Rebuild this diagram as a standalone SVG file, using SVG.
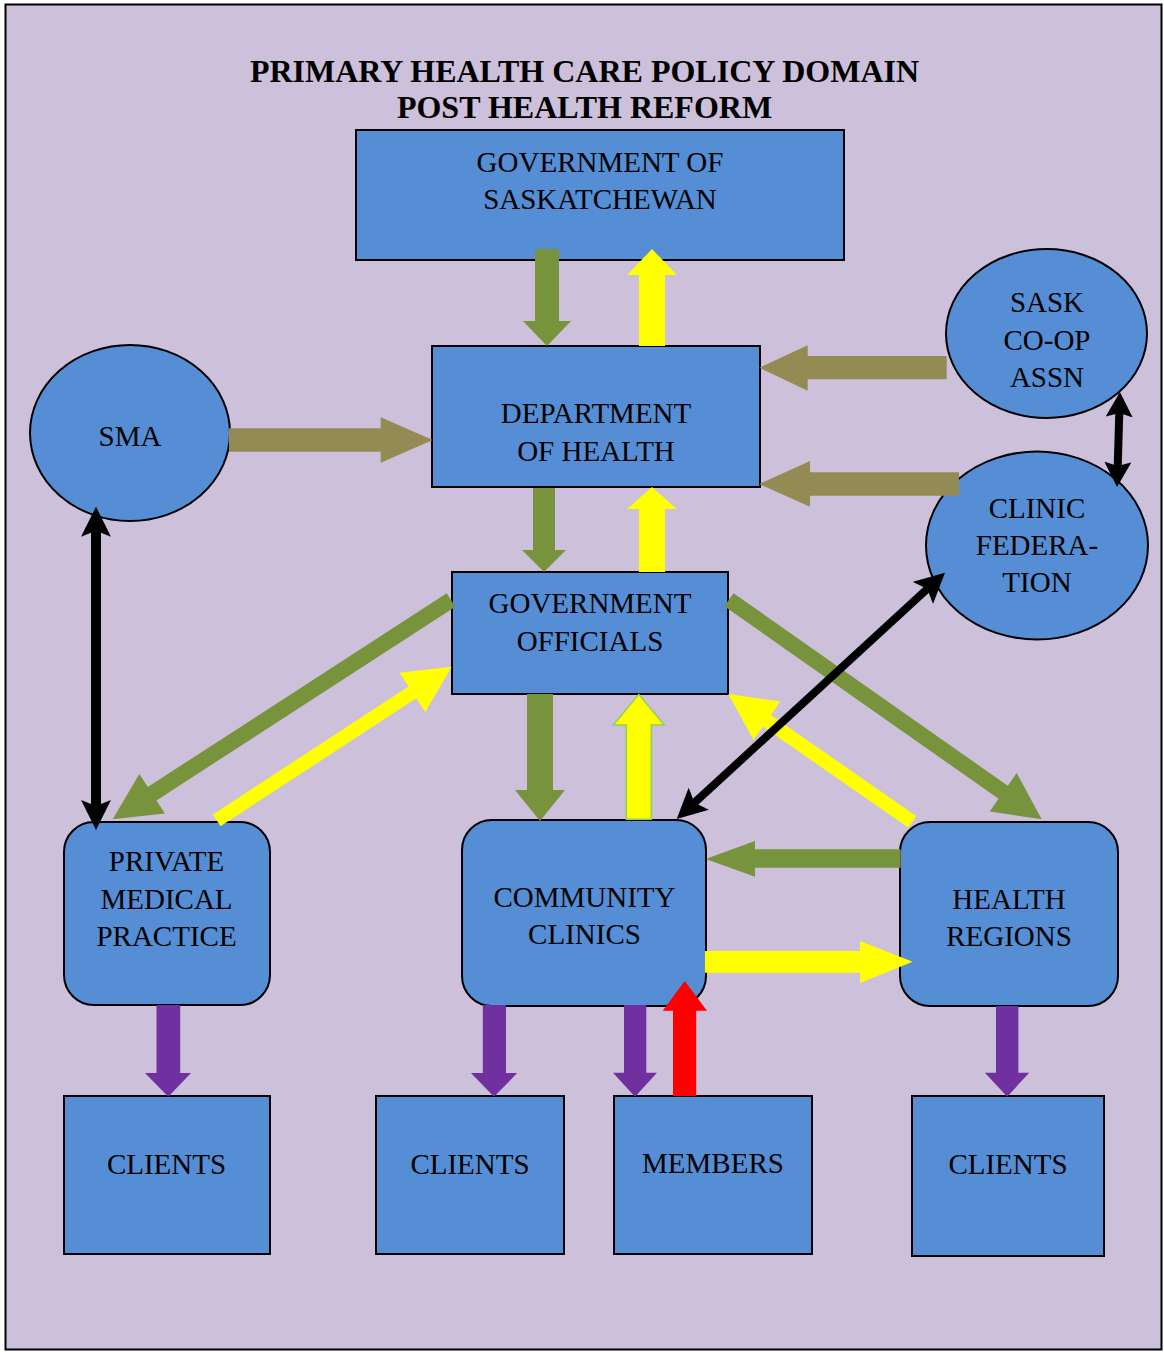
<svg xmlns="http://www.w3.org/2000/svg" width="1164" height="1352" viewBox="0 0 1164 1352">
<style>
.bg{fill:#CCC0DA;stroke:#000;stroke-width:2}
.n{fill:#558ED5;stroke:#000;stroke-width:2}
.t{font-family:"Liberation Serif","Times New Roman",serif;font-size:29px;fill:#000;text-anchor:middle}
.h{font-family:"Liberation Serif","Times New Roman",serif;font-size:32px;font-weight:bold;fill:#000;text-anchor:middle}
.g{fill:#77933C}
.y{fill:#FFFF00}
.yo{fill:#FFFF00;stroke:#92D050;stroke-width:1.5}
.k{fill:#948A54}
.p{fill:#7030A0}
.r{fill:#FF0000}
.b{stroke:#000;fill:none}
</style>
<defs>
<marker id="blk" viewBox="0 0 30 30" markerWidth="30" markerHeight="30" refX="6" refY="15" markerUnits="userSpaceOnUse" orient="auto-start-reverse">
<path d="M0,0 L30,15 L0,30 L6,15 Z" fill="#000"/>
</marker>
<marker id="blk2" viewBox="0 0 25 27" markerWidth="25" markerHeight="27" refX="4" refY="13.5" markerUnits="userSpaceOnUse" orient="auto-start-reverse">
<path d="M0,0 L25,13.5 L0,27 L4,13.5 Z" fill="#000"/>
</marker>
</defs>
<rect class="bg" x="5.5" y="4.5" width="1156" height="1345"/>
<g id="title">
<text class="h" x="584.5" y="82">PRIMARY HEALTH CARE POLICY DOMAIN</text>
<text class="h" x="584.5" y="118">POST HEALTH REFORM</text>
</g>
<g id="gov">
<rect class="n" x="356" y="130" width="488" height="130"/>
<text class="t" x="600" y="172">GOVERNMENT OF</text>
<text class="t" x="600" y="209">SASKATCHEWAN</text>
</g>
<g id="doh">
<rect class="n" x="432" y="346" width="328" height="141"/>
<text class="t" x="596" y="423">DEPARTMENT</text>
<text class="t" x="596" y="461">OF HEALTH</text>
</g>
<g id="officials">
<rect class="n" x="452" y="572" width="276" height="122"/>
<text class="t" x="590" y="613">GOVERNMENT</text>
<text class="t" x="590" y="651">OFFICIALS</text>
</g>
<g id="sma">
<ellipse class="n" cx="130" cy="433" rx="100" ry="88"/>
<text class="t" x="130" y="446">SMA</text>
</g>
<g id="sask">
<ellipse class="n" cx="1046.5" cy="333.5" rx="100.5" ry="84.5"/>
<text class="t" x="1047" y="312">SASK</text>
<text class="t" x="1047" y="350">CO-OP</text>
<text class="t" x="1047" y="387">ASSN</text>
</g>
<g id="clinicfed">
<ellipse class="n" cx="1037" cy="545.5" rx="111" ry="94"/>
<text class="t" x="1037" y="518">CLINIC</text>
<text class="t" x="1037" y="555">FEDERA-</text>
<text class="t" x="1037" y="592">TION</text>
</g>
<g id="private">
<rect class="n" x="64" y="822" width="206" height="183" rx="30"/>
<text class="t" x="166.5" y="871">PRIVATE</text>
<text class="t" x="166.5" y="909">MEDICAL</text>
<text class="t" x="166.5" y="946">PRACTICE</text>
</g>
<g id="community">
<rect class="n" x="462" y="820" width="244" height="186" rx="30"/>
<text class="t" x="584.5" y="907">COMMUNITY</text>
<text class="t" x="584.5" y="944">CLINICS</text>
</g>
<g id="regions">
<rect class="n" x="900" y="822" width="218" height="184" rx="30"/>
<text class="t" x="1009" y="909">HEALTH</text>
<text class="t" x="1009" y="946">REGIONS</text>
</g>
<g id="clients1">
<rect class="n" x="64" y="1096" width="206" height="158"/>
<text class="t" x="166.5" y="1174">CLIENTS</text>
</g>
<g id="clients2">
<rect class="n" x="376" y="1096" width="188" height="158"/>
<text class="t" x="470" y="1174">CLIENTS</text>
</g>
<g id="members">
<rect class="n" x="614" y="1096" width="198" height="158"/>
<text class="t" x="713" y="1173">MEMBERS</text>
</g>
<g id="clients3">
<rect class="n" x="912" y="1096" width="192" height="160"/>
<text class="t" x="1008" y="1174">CLIENTS</text>
</g>
<g id="connectors">
<polygon class="g" points="535,249 559,249 559,321 571,321 547,346 523,321 535,321"/>
<polygon class="g" points="533,488 555,488 555,550 566,550 544,572 522,550 533,550"/>
<polygon class="g" points="527,694 553,694 553,790 565,790 540,821 515,790 527,790"/>
<polygon class="g" points="446.7,593.3 455.4,606.7 156.5,800.4 164.9,813.4 112.7,819.3 139.3,774 147.8,787"/>
<polygon class="g" points="733.5,593.2 724.3,606.2 998.6,798.8 989.7,811.5 1041.7,819.3 1016.7,773.1 1007.8,785.8"/>
<polygon class="g" points="900.7,849.3 755,849.3 755,841 705.7,859 755,876.7 755,867.7 900.7,867.7"/>
<polygon class="y" points="639,346 639,275 627,275 652,249 677,275 665,275 665,346"/>
<polygon class="y" points="639,572 639,509 627,509 652,487 677,509 665,509 665,572"/>
<polygon class="yo" points="626.3,819.3 626.3,725 613.3,725 638.8,694.3 664.3,725 651.3,725 651.3,819.3"/>
<polygon class="y" points="212.9,814.4 220.5,826.2 416.2,698.3 425.2,712.1 451.7,666.7 399.5,672.8 408.5,686.6"/>
<polygon class="y" points="908.2,827.5 916.2,816 770.9,715 780.3,701.5 728.3,694 753.5,740.1 762.9,726.6"/>
<polygon class="y" points="705,951 860,951 860,941 912.7,961.7 860,983 860,972.7 705,972.7"/>
<polygon class="k" points="229,428.3 380.7,428.3 380.7,417.3 432.7,440 380.7,462.7 380.7,451.7 229,451.7"/>
<polygon class="k" points="946.7,356 807.7,356 807.7,345.3 759.3,367.7 807.7,390.7 807.7,379.3 946.7,379.3"/>
<polygon class="k" points="959,472.3 810,472.3 810,461 759,484 810,506.7 810,495.7 959,495.7"/>
<polygon class="p" points="156.5,1005 180.2,1005 180.2,1073 191,1073 168.3,1096.8 145,1073 156.5,1073"/>
<polygon class="p" points="482.8,1005 506,1005 506,1073 517.2,1073 494,1096.8 471,1073 482.8,1073"/>
<polygon class="p" points="624,1005 646.3,1005 646.3,1072.7 657,1072.7 635,1096.7 613,1072.7 624,1072.7"/>
<polygon class="p" points="996,1006 1018.4,1006 1018.4,1072.7 1029.2,1072.7 1007.2,1096.7 984.9,1072.7 996,1072.7"/>
<polygon class="r" points="673,1096 673,1010.7 662.7,1010.7 684.7,981 707,1010.7 696.2,1010.7 696.2,1096"/>
<line class="b" x1="96" y1="530.7" x2="96" y2="806" stroke-width="10" marker-start="url(#blk)" marker-end="url(#blk)"/>
<line class="b" x1="694.4" y1="802.8" x2="927.3" y2="588.9" stroke-width="8" marker-start="url(#blk)" marker-end="url(#blk)"/>
<line class="b" x1="1119.3" y1="413" x2="1117.7" y2="466" stroke-width="8" marker-start="url(#blk2)" marker-end="url(#blk2)"/>
</g>
</svg>
